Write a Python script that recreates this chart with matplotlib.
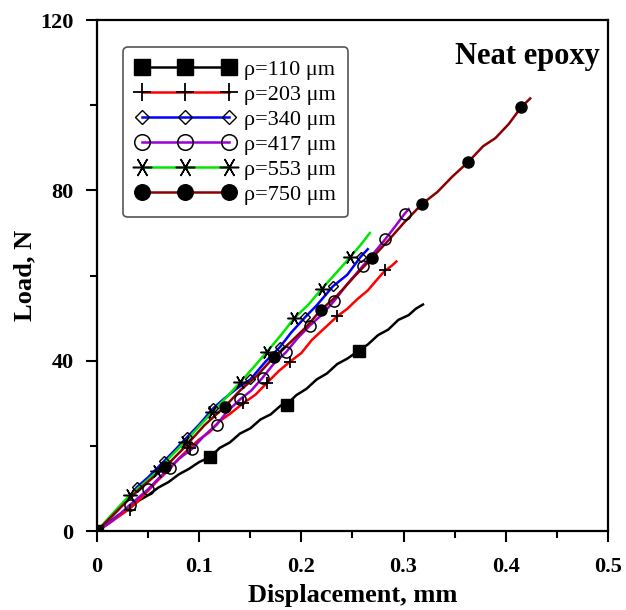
import matplotlib
matplotlib.use("Agg")
import matplotlib.pyplot as plt
from matplotlib.ticker import MultipleLocator, FixedLocator, FixedFormatter

plt.rcParams['font.family'] = ['Liberation Serif', 'DejaVu Serif']

# rho = 110 um
x110 = [0, 0.01, 0.02, 0.03, 0.04, 0.05, 0.06, 0.07, 0.08, 0.09, 0.10, 0.111, 0.12, 0.13, 0.14, 0.15,
        0.16, 0.17, 0.18, 0.186, 0.195, 0.205, 0.215, 0.225, 0.235, 0.245, 0.256, 0.265, 0.275, 0.285,
        0.295, 0.305, 0.312, 0.319]
y110 = [0, 1.6, 3.6, 5.0, 7.0, 8.4, 10.2, 11.5, 13.3, 14.6, 16.2, 17.4, 19.5, 20.8, 22.9, 24.1,
        26.2, 27.4, 29.5, 29.8, 31.9, 33.4, 35.6, 37.0, 39.2, 40.5, 42.3, 43.8, 46.0, 47.3,
        49.6, 50.7, 52.2, 53.2]
mx110 = [0, 0.111, 0.186, 0.256]
my110 = [0, 17.4, 29.7, 42.3]

# rho = 203 um
x203 = [0, 0.01, 0.02, 0.03, 0.04, 0.05, 0.06, 0.07, 0.08, 0.091, 0.10, 0.11, 0.12, 0.13, 0.143,
        0.155, 0.166, 0.178, 0.189, 0.20, 0.21, 0.222, 0.235, 0.245, 0.255, 0.265, 0.275, 0.282,
        0.288, 0.293]
y203 = [0, 1.5, 3.2, 4.9, 7.0, 9.5, 12.0, 14.3, 17.0, 19.6, 21.5, 23.2, 25.8, 27.5, 30.0,
        32.0, 34.7, 37.6, 39.8, 41.8, 44.8, 47.5, 50.4, 52.2, 54.5, 56.5, 59.3, 61.2,
        62.2, 63.3]
mx203 = [0.032, 0.091, 0.143, 0.166, 0.189, 0.235, 0.282]
my203 = [4.9, 19.6, 30.0, 34.7, 39.8, 50.4, 61.2]

# rho = 340 um
x340 = [0, 0.01, 0.02, 0.03, 0.039, 0.05, 0.066, 0.077, 0.088, 0.10, 0.114, 0.125, 0.137, 0.150,
        0.165, 0.179, 0.19, 0.204, 0.215, 0.231, 0.245, 0.258, 0.265]
y340 = [0, 2.3, 4.8, 7.6, 10.3, 12.6, 16.5, 19.2, 22.0, 25.0, 28.9, 31.2, 33.5, 35.6,
        39.8, 43.2, 46.6, 50.3, 53.0, 57.5, 60.2, 64.4, 66.2]
mx340 = [0.039, 0.066, 0.088, 0.114, 0.150, 0.179, 0.204, 0.231, 0.258]
my340 = [10.3, 16.5, 22.0, 28.9, 35.6, 43.2, 50.3, 57.5, 64.4]

# rho = 417 um
x417 = [0, 0.015, 0.032, 0.050, 0.060, 0.071, 0.082, 0.093, 0.105, 0.117, 0.128, 0.140, 0.151,
        0.162, 0.173, 0.185, 0.196, 0.208, 0.22, 0.232, 0.246, 0.260, 0.271, 0.282, 0.292, 0.301, 0.305]
y417 = [0, 2.4, 6.1, 9.8, 12.3, 14.9, 17.3, 19.3, 22.4, 25.0, 28.2, 30.9, 33.0,
        36.0, 39.3, 42.0, 45.2, 48.2, 50.8, 54.0, 58.3, 62.2, 65.3, 68.5, 71.6, 74.5, 75.6]
mx417 = [0.032, 0.050, 0.071, 0.093, 0.117, 0.140, 0.162, 0.185, 0.208, 0.232, 0.260, 0.282, 0.301]
my417 = [6.1, 9.8, 14.9, 19.3, 25.0, 30.9, 36.0, 42.0, 48.2, 54.0, 62.2, 68.5, 74.5]

# rho = 553 um
x553 = [0, 0.016, 0.032, 0.045, 0.059, 0.072, 0.086, 0.10, 0.113, 0.127, 0.140, 0.153, 0.166,
        0.18, 0.193, 0.207, 0.220, 0.234, 0.248, 0.258, 0.267]
y553 = [0, 4.3, 8.4, 11.0, 14.0, 17.5, 20.9, 24.6, 28.0, 31.5, 34.9, 38.4, 42.0,
        46.0, 50.0, 53.2, 56.9, 60.6, 64.4, 67.2, 70.0]
mx553 = [0.032, 0.059, 0.086, 0.113, 0.140, 0.166, 0.193, 0.220, 0.248]
my553 = [8.4, 14.0, 20.9, 28.0, 34.9, 42.0, 50.0, 56.9, 64.4]

# rho = 750 um
x750 = [0, 0.02, 0.04, 0.0665, 0.085, 0.105, 0.125, 0.14, 0.157, 0.173, 0.19, 0.205, 0.219, 0.235,
        0.252, 0.269, 0.285, 0.30, 0.318, 0.333, 0.348, 0.363, 0.378, 0.39, 0.403, 0.415, 0.424]
y750 = [0, 4.8, 9.5, 15.0, 19.5, 24.8, 29.2, 33.0, 36.6, 40.8, 44.5, 48.0, 51.9, 55.3,
        59.8, 64.1, 68.2, 72.3, 76.8, 79.6, 83.3, 86.6, 90.4, 92.3, 95.6, 99.5, 101.6]
mx750 = [0.0665, 0.125, 0.173, 0.219, 0.269, 0.318, 0.363, 0.415]
my750 = [15.0, 29.2, 40.8, 51.9, 64.1, 76.8, 86.6, 99.5]

labels = ["ρ=110 μm", "ρ=203 μm", "ρ=340 μm", "ρ=417 μm", "ρ=553 μm", "ρ=750 μm"]

fig = plt.figure(figsize=(6.26, 6.1), dpi=100)
ax = fig.add_axes([0.155, 0.1295, 0.816, 0.8375])

series = [
    (x110, y110, mx110, my110, "black", dict(marker="s", ms=8, mfc="black", mec="black")),
    (x203, y203, mx203, my203, "#ff0000", dict(marker="+", ms=9, mec="black", mew=1.3)),
    (x340, y340, mx340, my340, "#0000ff", dict(marker="D", ms=5, mfc="none", mec="black", mew=1.0)),
    (x417, y417, mx417, my417, "#9b00d0", dict(marker="o", ms=8, mfc="none", mec="black", mew=1.1)),
    (x553, y553, mx553, my553, "#00e600", dict(marker=(6, 2, 90), ms=10, mec="black", mew=1.1)),
    (x750, y750, mx750, my750, "#8b0000", dict(marker="o", ms=8, mfc="black", mec="black")),
]

handles = []
for (x, y, mx, my, c, mk), lab in zip(series, labels):
    ax.plot(x, y, color=c, lw=1.8, zorder=2)
    ax.plot(mx, my, ls="none", zorder=3, **mk)
    h, = ax.plot([], [], color=c, lw=1.8, **mk)
    handles.append(h)

ax.set_xlim(0, 0.5)
ax.set_ylim(0, 120)
ax.xaxis.set_major_locator(FixedLocator([0, 0.1, 0.2, 0.3, 0.4, 0.5]))
ax.xaxis.set_major_formatter(FixedFormatter(["0", "0.1", "0.2", "0.3", "0.4", "0.5"]))
ax.xaxis.set_minor_locator(MultipleLocator(0.05))
ax.yaxis.set_major_locator(MultipleLocator(40))
ax.yaxis.set_minor_locator(MultipleLocator(20))
ax.tick_params(which="major", direction="out", length=8, width=1.5, labelsize=16)
ax.tick_params(axis="x", which="major", pad=11)
ax.tick_params(axis="y", which="major", pad=9)
ax.tick_params(which="minor", direction="out", length=5, width=1.5)
for lab in ax.get_xticklabels() + ax.get_yticklabels():
    lab.set_fontweight("bold")
for sp in ax.spines.values():
    sp.set_linewidth(1.6)

ax.set_xlabel("Displacement, mm", fontsize=19, fontweight="bold", labelpad=5)
ax.set_ylabel("Load, N", fontsize=19, fontweight="bold", labelpad=3)

ax.text(0.984, 0.928, "Neat epoxy", transform=ax.transAxes, ha="right", va="center",
        fontsize=22, fontweight="bold")

leg = ax.legend(handles, labels, loc="upper left", bbox_to_anchor=(0.051, 0.947), borderaxespad=0,
                numpoints=3, handlelength=4.5, fontsize=16, labelspacing=0.2, handletextpad=0.4,
                markerscale=1.4, fancybox=True, framealpha=1, borderpad=0.55)
leg.get_frame().set_edgecolor("#555555")
leg.get_frame().set_linewidth(1.2)

fig.savefig("out.png", dpi=100)
